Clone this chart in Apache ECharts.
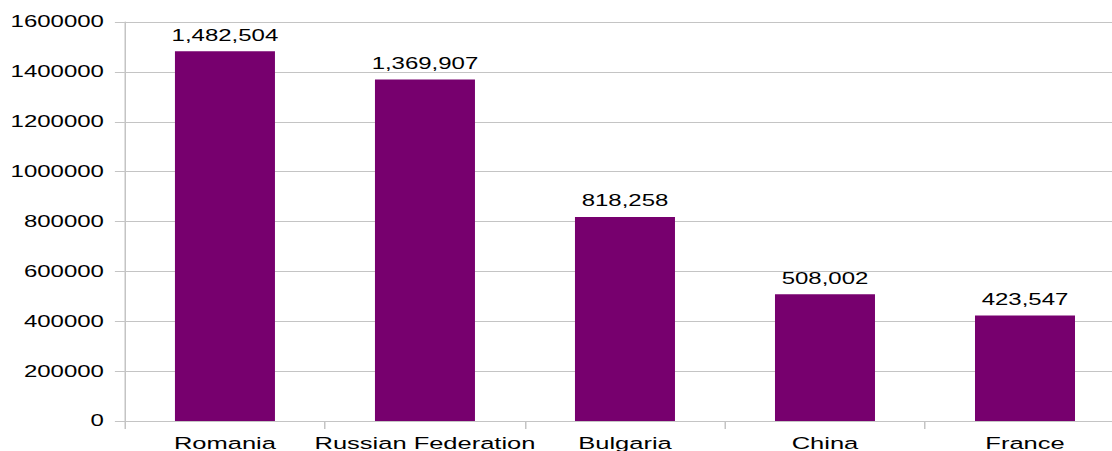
<!DOCTYPE html>
<html>
<head>
<meta charset="utf-8">
<script src="https://cdn.jsdelivr.net/npm/echarts@6/dist/echarts.min.js"></script>
<style>
    html, body { margin: 0; padding: 0; overflow: hidden; background: #fff; }
    /* the reference is stretched sideways, so the chart is drawn narrow and widened */
    #chart { width: 750px; height: 451px; transform: scaleX(1.5); transform-origin: 0 0; }
</style>
</head>
<body>
<div id="chart"></div>
<script>
    // categories and values
    var countries = ['Romania', 'Russian Federation', 'Bulgaria', 'China', 'France'];
    var visitors = [1482504, 1369907, 818258, 508002, 423547];

    // y axis range
    var yMin = 0;
    var yMax = 1600000;
    var yStep = 200000;

    var gray = '#c4c4c4';
    var font = 'Liberation Sans';

    var chart = echarts.init(document.getElementById('chart'), null, { renderer: 'svg' });

    var option = {
        animation: false,
        grid: {
            left: 83.3,
            right: 0,
            top: 22,
            bottom: 30,
            containLabel: false,
            outerBoundsMode: 'none'
        },
        xAxis: {
            type: 'category',
            data: countries,
            axisLine: { lineStyle: { color: gray } },
            axisTick: { show: true, length: 8, lineStyle: { color: gray } },
            axisLabel: {
                color: '#000',
                fontFamily: font,
                fontSize: 17,
                margin: 14,
                interval: 0
            }
        },
        yAxis: {
            type: 'value',
            min: yMin,
            max: yMax,
            interval: yStep,
            axisLine: { show: true, lineStyle: { color: gray } },
            axisTick: { show: true, length: 6.7, lineStyle: { color: gray } },
            splitLine: { lineStyle: { color: gray } },
            axisLabel: {
                color: '#000',
                fontFamily: font,
                fontSize: 16,
                margin: 14,
                formatter: function(v){
                    return String(v);
                }
            }
        },
        series: [
            {
                type: 'bar',
                data: visitors,
                barWidth: '50%',
                itemStyle: { color: '#77006e' },
                label: {
                    show: true,
                    position: 'top',
                    distance: 8,
                    color: '#000',
                    fontFamily: font,
                    fontSize: 16,
                    formatter: function(p){
                        return p.value.toLocaleString('en-US');
                    }
                }
            }
        ]
    };

    chart.setOption(option);
</script>
</body>
</html>
